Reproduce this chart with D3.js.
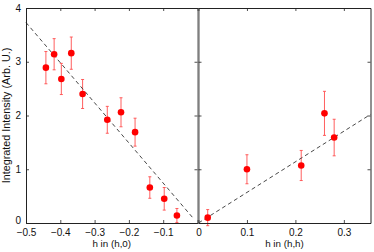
<!DOCTYPE html>
<html>
<head>
<meta charset="utf-8">
<script src="https://cdn.jsdelivr.net/npm/d3@7"></script>
<style>
  body { margin: 0; background: #fff; }
  text { font-family: "Liberation Sans", Arial, sans-serif; }
</style>
</head>
<body>
<svg id="chart" width="374" height="252"></svg>
<script>
// left panel: h along (h,0)
var hLeft   = [-0.442, -0.418, -0.397, -0.368, -0.335, -0.263, -0.223, -0.182, -0.139, -0.097, -0.060];
var iLeft   = [2.89, 3.14, 2.68, 3.16, 2.40, 1.92, 2.06, 1.69, 0.66, 0.45, 0.14];
var eLeft   = [0.30, 0.29, 0.29, 0.30, 0.27, 0.25, 0.27, 0.26, 0.20, 0.21, 0.13];
// right panel: h along (h,h)
var hRight  = [0.019, 0.100, 0.212, 0.260, 0.280];
var iRight  = [0.10, 1.00, 1.07, 2.04, 1.59];
var eRight  = [0.15, 0.27, 0.28, 0.41, 0.34];
// dashed guide lines
var fitLeft  = [[-0.5, 3.73], [-0.01, 0.07]];
var fitRight = [[0, 0], [0.355, 2.02]];

var xTicksLeft  = [-0.5, -0.4, -0.3, -0.2, -0.1, 0];
var xTicksRight = [0, 0.1, 0.2, 0.3];
var yTicks      = [0, 1, 2, 3, 4];

var svg = d3.select("#chart");
var plotTop = 8, plotBottom = 223;

var y = d3.scaleLinear().domain([0, 4]).range([plotBottom, plotTop]);
var fmt = function (d) { return d === 0 ? "0" : d3.format(".1f")(d); };

function panel(x, ticks, hs, is, es, fit, title, isLeft) {
  var g = svg.append("g");
  var x0 = x.range()[0], x1 = x.range()[1];

  // error bars
  var eb = g.append("g").attr("stroke", "#ff4d4d").attr("stroke-width", 0.9);
  hs.forEach(function (h, k) {
    var cx = x(h), lo = y(is[k] - es[k]), hi = y(is[k] + es[k]);
    eb.append("line").attr("x1", cx).attr("x2", cx).attr("y1", lo).attr("y2", hi);
    eb.append("line").attr("x1", cx - 1.5).attr("x2", cx + 1.5).attr("y1", lo).attr("y2", lo);
    eb.append("line").attr("x1", cx - 1.5).attr("x2", cx + 1.5).attr("y1", hi).attr("y2", hi);
  });

  // dashed line
  g.append("path")
    .attr("d", d3.line().x(function (d) { return x(d[0]); }).y(function (d) { return y(d[1]); })(fit))
    .attr("fill", "none").attr("stroke", "#333").attr("stroke-width", 0.9)
    .attr("stroke-dasharray", "4,3");

  g.selectAll("circle.pt").data(hs).enter().append("circle")
    .attr("class", "pt")
    .attr("cx", function (d) { return x(d); })
    .attr("cy", function (d, k) { return y(is[k]); })
    .attr("r", 3.3).attr("fill", "#ff0000");

  // axes, ticks pointing inward
  var ax = [
    g.append("g").attr("transform", "translate(0," + plotBottom + ")")
      .call(d3.axisBottom(x).tickValues(ticks).tickFormat(fmt).tickSize(-3).tickSizeOuter(0).tickPadding(5.5)),
    g.append("g").attr("transform", "translate(0," + plotTop + ")")
      .call(d3.axisTop(x).tickValues(ticks).tickFormat("").tickSize(-3).tickSizeOuter(0)),
    g.append("g").attr("transform", "translate(" + x0 + ",0)")
      .call(d3.axisLeft(y).tickValues(yTicks).tickFormat(isLeft ? d3.format("d") : "").tickSize(-3).tickSizeOuter(0).tickPadding(5)),
    g.append("g").attr("transform", "translate(" + x1 + ",0)")
      .call(d3.axisRight(y).tickValues(yTicks).tickFormat("").tickSize(-3).tickSizeOuter(0))
  ];
  ax.forEach(function (a) {
    a.attr("font-size", 10).attr("font-family", "'Liberation Sans', Arial, sans-serif");
    a.selectAll("path.domain").attr("stroke", "#222").attr("stroke-width", 1);
    a.selectAll(".tick line").attr("stroke", "#222").attr("stroke-width", 0.8);
    a.selectAll(".tick text").attr("fill", "#111");
  });
  // the shared middle edge reads as a softer grey double line
  ax[isLeft ? 3 : 2].select("path.domain").attr("stroke", "#555");

  if (isLeft) {
    // zero label sits on the axis line, clear of the -0.5 label
    ax[2].selectAll(".tick text").filter(function (d) { return d === 0; }).attr("dy", "0.02em");
    // shared "0" is drawn once, by the right panel
    ax[0].selectAll(".tick text").filter(function (d) { return d === 0; }).remove();
  }

  g.append("text")
    .attr("x", (x0 + x1) / 2).attr("y", 247)
    .attr("text-anchor", "middle").attr("font-size", 9.8).attr("fill", "#111")
    .text(title);
}

var xLeft  = d3.scaleLinear().domain([-0.5, 0]).range([26, 197.5]);
var xRight = d3.scaleLinear().domain([0, 0.355]).range([198.5, 370.5]);

panel(xLeft, xTicksLeft, hLeft, iLeft, eLeft, fitLeft, "h in (h,0)", true);
panel(xRight, xTicksRight, hRight, iRight, eRight, fitRight, "h in (h,h)", false);

svg.append("text")
  .attr("transform", "translate(10," + (plotTop + plotBottom) / 2 + ") rotate(-90)")
  .attr("text-anchor", "middle").attr("font-size", 10.8).attr("fill", "#111")
  .text("Integrated Intensity (Arb. U.)");
</script>
</body>
</html>
